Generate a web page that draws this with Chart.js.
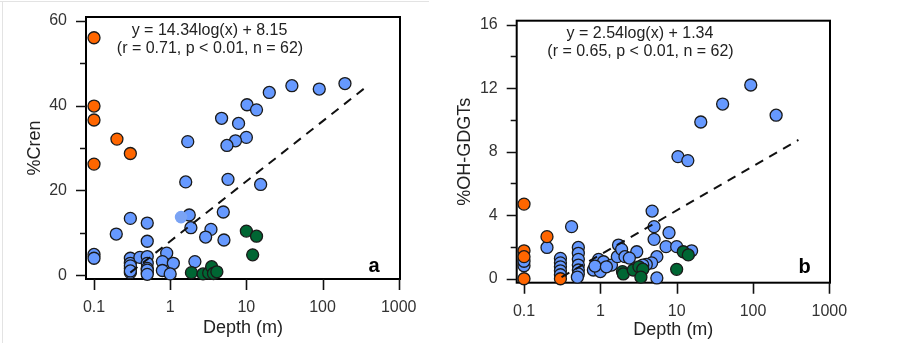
<!DOCTYPE html>
<html>
<head>
<meta charset="utf-8">
<script src="https://cdn.jsdelivr.net/npm/chart.js@4.4.1/dist/chart.umd.min.js"></script>
<style>
    body { margin: 0; background: #fff; }
    #wrap { position: relative; width: 901px; height: 350px; overflow: hidden; }
    .panel { position: absolute; top: 0; }
    .edge { position: absolute; background: #e3e3e3; }
</style>
</head>
<body>
<div id="wrap">
    <div class="edge" style="left:0;top:1px;width:429px;height:1px"></div>
    <div class="edge" style="left:2px;top:1px;width:1px;height:342px"></div>
    <div class="panel" style="left:0;width:430px;height:350px"><canvas id="chartCren" width="430" height="350"></canvas></div>
    <div class="panel" style="left:450px;width:451px;height:350px"><canvas id="chartOH" width="451" height="350"></canvas></div>
</div>
<script>
    'use strict';

    // x axis (both panels)
    const depthTicks = [0.1, 1, 10, 100, 1000];

    // panel a: %Cren
    const crenTicks = [0, 20, 40, 60];
    const crenMinor = [10, 30, 50];
    const crenOrangeDepth = [0.1, 0.1, 0.1, 0.1, 0.2, 0.3];
    const crenOrangeVal = [56.0, 39.9, 36.6, 26.2, 32.1, 28.7];
    const crenGreenDepth = [1.9, 2.7, 3.2, 3.5, 3.7, 4.1, 10, 13.6, 12.1];
    const crenGreenVal = [0.6, 0.3, 0.5, 2.0, 0.4, 0.8, 10.4, 9.2, 4.8];
    const crenBlueDepth = [197, 90.6, 39.6, 20, 10.2, 13.6, 4.73, 7.9, 10, 7.2, 5.56, 1.7, 1.6, 5.74, 15.4,
        0.3, 0.196, 0.5, 0.5, 1.78, 1.87, 3.43, 2.92, 4.98, 5.08, 2.11, 0.1, 0.1,
        0.3, 0.3, 0.3, 0.3, 0.4, 0.5, 0.5, 0.5, 0.5, 0.9, 0.79, 0.79, 1.1, 1.0, 0.3, 0.5, 0.5, 0.3];
    const crenBlueVal = [45.2, 43.9, 44.7, 43.1, 40.2, 39.0, 37.0, 35.8, 32.5, 31.7, 30.6, 31.5, 22.0, 22.6, 21.4,
        13.4, 9.7, 12.3, 8.0, 14.2, 11.2, 10.8, 9.0, 14.9, 8.3, 3.2, 4.9, 4.0,
        4.0, 2.8, 1.6, 0.6, 4.2, 4.4, 2.8, 1.6, 0.6, 5.2, 3.2, 1.1, 2.8, 0.3, 2.2, 1.2, 0.2, 1.0];
    const crenPaleDepth = [1.39];
    const crenPaleVal = [13.7];
    const crenFitDepth = [0.3, 380];
    const crenFitVal = [0.6, 44.5];

    // panel b: %OH-GDGTs
    const ohTicks = [0, 4, 8, 12, 16];
    const ohMinor = [2, 6, 10, 14];
    const ohOrangeDepth = [0.1, 0.1, 0.1, 0.1, 0.2, 0.3];
    const ohOrangeVal = [4.7, 1.76, 1.39, 0, 2.65, 0];
    const ohGreenDepth = [1.95, 2.0, 2.7, 3.2, 3.6, 3.4, 10, 12.2, 14.2];
    const ohGreenVal = [0.45, 0.3, 0.55, 0.75, 0.6, 0.1, 0.59, 1.7, 1.5];
    const ohBlueDepth = [93.5, 40, 201, 20.7, 10.4, 14, 4.77, 5.06, 5.06, 7.94, 7.26, 10, 15.7, 0.42, 0.2, 0.1,
        0.3, 0.3, 0.3, 0.3, 0.3, 0.515, 0.515, 0.515, 0.515, 0.515, 0.515,
        0.81, 1.0, 0.95, 1.1, 1.4, 1.73, 1.67, 1.9, 2.1, 3.0, 5.5, 4.7, 5.5, 4.0, 3.6,
        0.1, 0.5, 2.4, 0.85, 1.2];
    const ohBlueVal = [12.2, 11.0, 10.3, 9.87, 7.69, 7.44, 4.26, 3.28, 2.48, 2.9, 2.02, 2.02, 1.76, 3.28, 1.97, 0.82,
        1.28, 1.0, 0.75, 0.5, 0.25, 1.97, 1.6, 1.22, 0.86, 0.55, 0.3,
        0.55, 0.45, 1.22, 1.07, 0.86, 2.12, 1.39, 1.85, 1.39, 1.7, 1.39, 1.0, 0.05, 0.9, 0.86,
        1.1, 0.1, 1.3, 0.8, 0.75];
    const ohFitDepth = [0.31, 394];
    const ohFitVal = [0.1, 8.74];

    const BLUE = '#6699ff';
    const ORANGE = '#ff6600';
    const GREEN = '#006633';
    const EDGE = '#1a1a1a';
    const FONT = 'Liberation Sans, Arial, sans-serif';

    function pts(xs, ys) {
        return xs.map((x, i) => ({ x: x, y: ys[i] }));
    }

    // scales would otherwise reserve room for edge labels + padding
    function noEdgePad(s) {
        s.paddingTop = 0;
        s.paddingBottom = 0;
        s.paddingLeft = 0;
        s.paddingRight = 0;
    }

    // frame + outward ticks, drawn from the scales
    const framePlugin = {
        id: 'frame',
        beforeDatasetsDraw(chart, args, opts) {
            const { ctx, chartArea: a, scales } = chart;
            ctx.save();
            ctx.strokeStyle = '#000';
            ctx.lineWidth = 2;
            ctx.strokeRect(a.left, a.top, a.right - a.left, a.bottom - a.top);
            ctx.lineWidth = 1.6;
            ctx.strokeStyle = '#111';
            ctx.beginPath();
            opts.xTicks.forEach(v => {
                const px = Math.round(scales.x.getPixelForValue(v)) + 0.5;
                ctx.moveTo(px, a.bottom);
                ctx.lineTo(px, a.bottom + 11);
            });
            opts.yMajor.forEach(v => {
                const py = Math.round(scales.y.getPixelForValue(v)) + 0.5;
                ctx.moveTo(a.left - 10, py);
                ctx.lineTo(a.left, py);
            });
            opts.yMinor.forEach(v => {
                const py = Math.round(scales.y.getPixelForValue(v)) + 0.5;
                ctx.moveTo(a.left - 6, py);
                ctx.lineTo(a.left, py);
            });
            ctx.stroke();
            ctx.restore();
        }
    };

    const notePlugin = {
        id: 'notes',
        afterDraw(chart, args, opts) {
            const ctx = chart.ctx;
            ctx.save();
            ctx.textAlign = 'center';
            ctx.textBaseline = 'alphabetic';
            opts.items.forEach(n => {
                ctx.font = n.font;
                ctx.fillStyle = n.color || '#222';
                ctx.fillText(n.text, n.x, n.y);
            });
            ctx.restore();
        }
    };

    function makePanel(id, p) {
        const ctx = document.getElementById(id);
        return new Chart(ctx, {
            type: 'scatter',
            data: {
                datasets: [
                    {
                        type: 'line',
                        data: pts(p.fitX, p.fitY),
                        borderColor: '#111',
                        borderWidth: 2,
                        borderDash: [9, 7],
                        pointRadius: 0,
                        fill: false,
                        clip: false
                    },
                    { data: pts(p.orangeX, p.orangeY), backgroundColor: ORANGE, borderColor: EDGE, borderWidth: 1.3, pointRadius: 6, clip: false },
                    { data: pts(p.greenX, p.greenY), backgroundColor: GREEN, borderColor: EDGE, borderWidth: 1.3, pointRadius: 6, clip: false },
                    { data: pts(p.paleX, p.paleY), backgroundColor: '#7aa3f4', borderWidth: 0, pointRadius: 6.3, clip: false },
                    { data: pts(p.blueX, p.blueY), backgroundColor: BLUE, borderColor: EDGE, borderWidth: 1.3, pointRadius: 6, clip: false }
                ]
            },
            options: {
                responsive: false,
                animation: false,
                devicePixelRatio: 1,
                layout: { padding: p.padding },
                plugins: {
                    legend: { display: false },
                    tooltip: { enabled: false },
                    frame: { xTicks: depthTicks, yMajor: p.yTicks, yMinor: p.yMinor },
                    notes: { items: p.notes }
                },
                scales: {
                    x: {
                        type: 'logarithmic',
                        min: p.xMin,
                        max: p.xMax,
                        afterBuildTicks: s => { s.ticks = depthTicks.map(v => ({ value: v })); },
                        afterFit: s => { s.height = p.xHeight; noEdgePad(s); },
                        grid: { display: false, drawTicks: false },
                        border: { display: false },
                        ticks: {
                            autoSkip: false,
                            maxRotation: 0,
                            padding: 19,
                            color: '#333',
                            font: { family: FONT, size: 16 },
                            callback: v => String(v)
                        },
                        title: {
                            display: true,
                            text: 'Depth (m)',
                            color: '#222',
                            font: { family: FONT, size: 18 },
                            padding: { top: 0, bottom: p.xTitlePad }
                        }
                    },
                    y: {
                        min: p.yMin,
                        max: p.yMax,
                        afterBuildTicks: s => { s.ticks = p.yTicks.map(v => ({ value: v })); },
                        afterFit: s => { s.width = p.yWidth; noEdgePad(s); },
                        grid: { display: false, drawTicks: false },
                        border: { display: false },
                        ticks: {
                            padding: 19,
                            color: '#333',
                            font: { family: FONT, size: 16 }
                        },
                        title: {
                            display: true,
                            text: p.yTitle,
                            color: '#222',
                            font: { family: FONT, size: 18 },
                            padding: { top: 4.5, bottom: 0 }
                        }
                    }
                }
            },
            plugins: [framePlugin, notePlugin]
        });
    }

    makePanel('chartCren', {
        fitX: crenFitDepth, fitY: crenFitVal,
        orangeX: crenOrangeDepth, orangeY: crenOrangeVal,
        greenX: crenGreenDepth, greenY: crenGreenVal,
        paleX: crenPaleDepth, paleY: crenPaleVal,
        blueX: crenBlueDepth, blueY: crenBlueVal,
        yTicks: crenTicks, yMinor: crenMinor,
        xMin: 0.0785, xMax: 1040, yMin: -0.9, yMax: 60.9,
        padding: { left: 19.3, top: 17, right: 30, bottom: 0 },
        yWidth: 66.7, xHeight: 71, xTitlePad: 11,
        yTitle: '%Cren',
        notes: [
            { text: 'y = 14.34log(x) + 8.15', x: 209.5, y: 35, font: '16px ' + FONT },
            { text: '(r = 0.71, p < 0.01, n = 62)', x: 210, y: 52.5, font: '16px ' + FONT },
            { text: 'a', x: 374, y: 272, font: 'bold 20px ' + FONT, color: '#000' }
        ]
    });

    makePanel('chartOH', {
        fitX: ohFitDepth, fitY: ohFitVal,
        orangeX: ohOrangeDepth, orangeY: ohOrangeVal,
        greenX: ohGreenDepth, greenY: ohGreenVal,
        paleX: [], paleY: [],
        blueX: ohBlueDepth, blueY: ohBlueVal,
        yTicks: ohTicks, yMinor: ohMinor,
        xMin: 0.0802, xMax: 1021, yMin: -0.25, yMax: 16.25,
        padding: { left: 0, top: 20.7, right: 71, bottom: 0 },
        yWidth: 66.7, xHeight: 67.3, xTitlePad: 9,
        yTitle: '%OH-GDGTs',
        notes: [
            { text: 'y = 2.54log(x) + 1.34', x: 190, y: 37.5, font: '16px ' + FONT },
            { text: '(r = 0.65, p < 0.01, n = 62)', x: 190.5, y: 56, font: '16px ' + FONT },
            { text: 'b', x: 354.5, y: 273, font: 'bold 20px ' + FONT, color: '#000' }
        ]
    });
</script>
</body>
</html>
